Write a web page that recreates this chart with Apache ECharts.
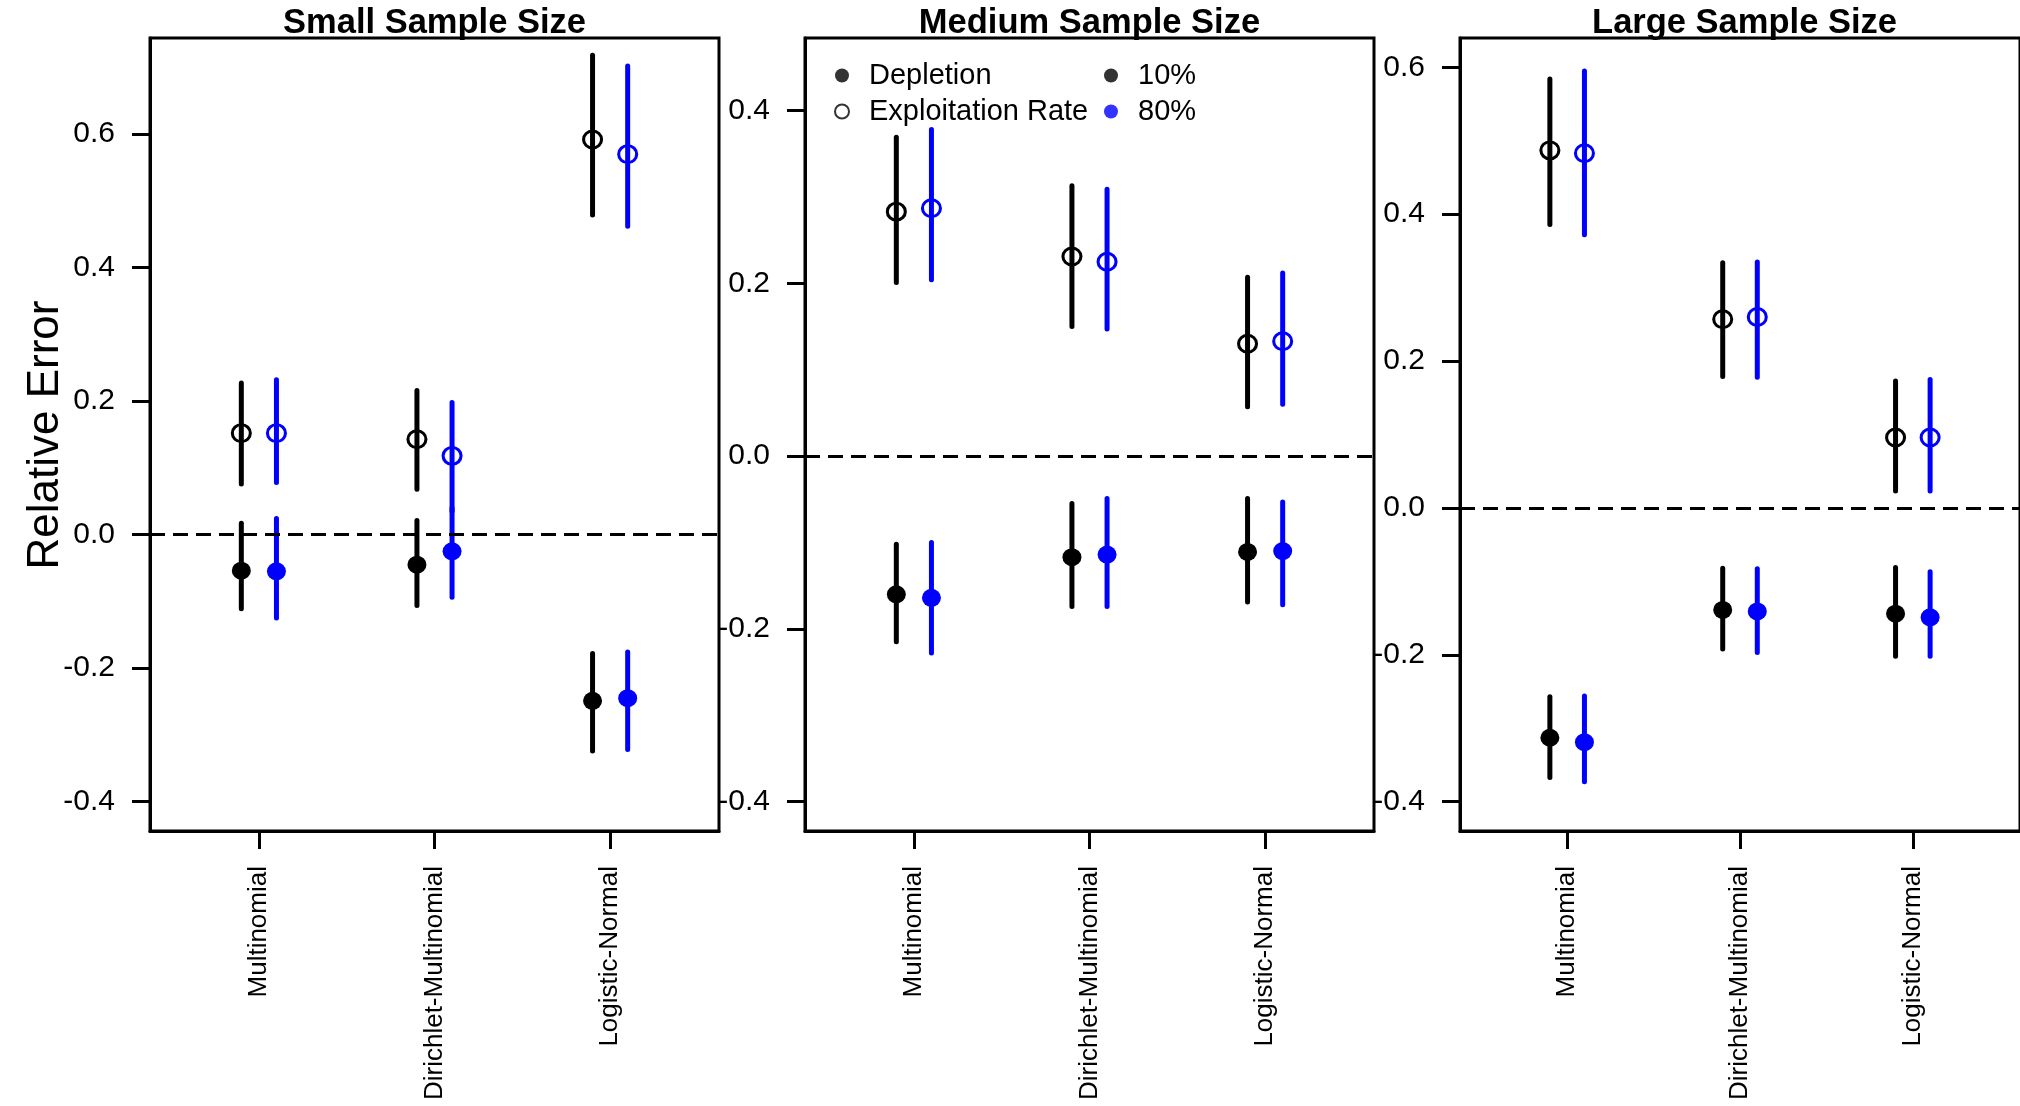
<!DOCTYPE html>
<html>
<head>
<meta charset="utf-8">
<script src="https://cdn.jsdelivr.net/npm/echarts@6/dist/echarts.min.js"></script>
<style>
html,body{margin:0;padding:0;background:#fff;}
#chart{width:2020px;height:1106px;}
</style>
</head>
<body>
<div id="chart"></div>
<script>
// ---------------- DATA ----------------
const categories = ['Multinomial', 'Dirichlet-Multinomial', 'Logistic-Normal'];
const panelTitles = ['Small Sample Size', 'Medium Sample Size', 'Large Sample Size'];
const yLimits = [[-0.4, 0.7], [-0.4, 0.45], [-0.4, 0.6]];
const yTicksSmall = [-0.4, -0.2, 0.0, 0.2, 0.4, 0.6];
const yTicksMedium = [-0.4, -0.2, 0.0, 0.2, 0.4];
const yTicksLarge = [-0.4, -0.2, 0.0, 0.2, 0.4, 0.6];
const legendMeasures = ['Depletion', 'Exploitation Rate'];
const legendRates = ['10%', '80%'];

// each entry: [estimate, lower, upper] per category
const smallDepletion10 = [[-0.054, -0.111, 0.017], [-0.045, -0.106, 0.021], [-0.249, -0.324, -0.178]];
const smallDepletion80 = [[-0.055, -0.125, 0.024], [-0.025, -0.094, 0.040], [-0.245, -0.322, -0.176]];
const smallExploit10   = [[0.152, 0.076, 0.227], [0.143, 0.068, 0.216], [0.592, 0.479, 0.718]];
const smallExploit80   = [[0.152, 0.078, 0.232], [0.118, 0.035, 0.198], [0.570, 0.462, 0.702]];

const mediumDepletion10 = [[-0.160, -0.215, -0.102], [-0.117, -0.174, -0.055], [-0.111, -0.169, -0.049]];
const mediumDepletion80 = [[-0.164, -0.228, -0.100], [-0.114, -0.174, -0.049], [-0.110, -0.172, -0.053]];
const mediumExploit10   = [[0.283, 0.201, 0.369], [0.231, 0.150, 0.313], [0.130, 0.057, 0.207]];
const mediumExploit80   = [[0.287, 0.204, 0.378], [0.225, 0.147, 0.309], [0.133, 0.060, 0.212]];

const largeDepletion10 = [[-0.313, -0.367, -0.257], [-0.139, -0.192, -0.082], [-0.144, -0.202, -0.081]];
const largeDepletion80 = [[-0.319, -0.373, -0.256], [-0.141, -0.197, -0.083], [-0.149, -0.202, -0.087]];
const largeExploit10   = [[0.487, 0.386, 0.584], [0.257, 0.179, 0.334], [0.096, 0.023, 0.173]];
const largeExploit80   = [[0.483, 0.372, 0.595], [0.260, 0.178, 0.335], [0.096, 0.023, 0.175]];

// ---------------- SETUP ----------------
const FONT = "'Liberation Sans', Arial, sans-serif";
const BLACK = '#000000';
const BLUE = '#0000FF';
const yTicks = [yTicksSmall, yTicksMedium, yTicksLarge];
const groups = [
  { name: 'Depletion 10%', filled: true,  color: BLACK, dodge: -0.1, data: [smallDepletion10, mediumDepletion10, largeDepletion10] },
  { name: 'Depletion 80%', filled: true,  color: BLUE,  dodge:  0.1, data: [smallDepletion80, mediumDepletion80, largeDepletion80] },
  { name: 'Exploitation Rate 10%', filled: false, color: BLACK, dodge: -0.1, data: [smallExploit10, mediumExploit10, largeExploit10] },
  { name: 'Exploitation Rate 80%', filled: false, color: BLUE,  dodge:  0.1, data: [smallExploit80, mediumExploit80, largeExploit80] }
];

const gridLefts = [150, 805, 1460];
const gridTop = 38, gridHeight = 793, gridWidth = 569;
const xlim = [0.5, 3.5];
const xPad = 0.04 * (xlim[1] - xlim[0]);

const grids = [], xAxes = [], yAxes = [], titles = [], series = [];

for (let p = 0; p < 3; p++) {
  grids.push({
    left: gridLefts[p], top: gridTop, width: gridWidth, height: gridHeight,
    show: true, borderColor: BLACK, borderWidth: 3, backgroundColor: 'transparent', containLabel: false
  });
  const yl = yLimits[p];
  const yPad = 0.04 * (yl[1] - yl[0]);
  xAxes.push({
    type: 'value', gridIndex: p,
    min: xlim[0] - xPad, max: xlim[1] + xPad,
    axisLine: { show: true, onZero: false, lineStyle: { color: BLACK, width: 3 } },
    axisTick: { show: true, length: 18, customValues: [1, 2, 3], lineStyle: { color: BLACK, width: 3 } },
    axisLabel: {
      show: true, customValues: [1, 2, 3], rotate: 90, margin: 35,
      fontSize: 26, color: BLACK, fontFamily: FONT,
      formatter: v => categories[Math.round(v) - 1]
    },
    splitLine: { show: false }
  });
  yAxes.push({
    type: 'value', gridIndex: p,
    min: yl[0] - yPad, max: yl[1] + yPad,
    axisLine: { show: true, onZero: false, lineStyle: { color: BLACK, width: 3 } },
    axisTick: { show: true, length: 18, customValues: yTicks[p], lineStyle: { color: BLACK, width: 3 } },
    axisLabel: {
      show: true, customValues: yTicks[p], margin: 35,
      fontSize: 30, color: BLACK, fontFamily: FONT,
      formatter: v => v.toFixed(1)
    },
    splitLine: { show: false }
  });
  titles.push({
    text: panelTitles[p],
    left: gridLefts[p] + gridWidth / 2, top: 6, textAlign: 'center', padding: 0,
    textStyle: { fontSize: 34.5, fontWeight: 'bold', color: BLACK, fontFamily: FONT }
  });

  groups.forEach((g, gi) => {
    const bars = g.data[p].map((d, i) => [i + 1 + g.dodge, d[1], d[2]]);
    const pts = g.data[p].map((d, i) => [i + 1 + g.dodge, d[0]]);
    series.push({
      type: 'custom', xAxisIndex: p, yAxisIndex: p, silent: true, z: 3,
      data: bars,
      encode: { x: 0, y: [1, 2] },
      renderItem: (params, api) => {
        const a = api.coord([api.value(0), api.value(1)]);
        const b = api.coord([api.value(0), api.value(2)]);
        return {
          type: 'line',
          shape: { x1: a[0], y1: a[1], x2: b[0], y2: b[1] },
          style: { stroke: g.color, lineWidth: 5, lineCap: 'round' }
        };
      }
    });
    const s = {
      type: 'scatter', name: g.name, xAxisIndex: p, yAxisIndex: p, silent: true, z: 5,
      data: pts,
      symbol: 'circle',
      symbolSize: g.filled ? [19, 18] : [18, 17],
      itemStyle: g.filled
        ? { color: g.color, borderWidth: 0, opacity: 1 }
        : { color: 'rgba(255,255,255,0)', borderColor: g.color, borderWidth: 3, opacity: 1 }
    };
    if (gi === 0) {
      s.markLine = {
        silent: true, symbol: ['none', 'none'], animation: false,
        label: { show: false },
        lineStyle: { color: BLACK, width: 3, type: [15, 8] },
        data: [{ yAxis: 0 }]
      };
    }
    series.push(s);
  });
}

// dummy series for legend entries
series.push({ type: 'scatter', name: legendMeasures[0], xAxisIndex: 1, yAxisIndex: 1, data: [], itemStyle: { color: BLACK } });
series.push({ type: 'scatter', name: legendMeasures[1], xAxisIndex: 1, yAxisIndex: 1, data: [], itemStyle: { color: '#ffffff', borderColor: BLACK, borderWidth: 2.5 } });
series.push({ type: 'scatter', name: legendRates[0], xAxisIndex: 1, yAxisIndex: 1, data: [], itemStyle: { color: BLACK } });
series.push({ type: 'scatter', name: legendRates[1], xAxisIndex: 1, yAxisIndex: 1, data: [], itemStyle: { color: BLUE } });

const legendCommon = {
  orient: 'vertical', top: 61, padding: 0, itemGap: 7,
  itemWidth: 44, itemHeight: 14, icon: 'circle', selectedMode: false,
  textStyle: { fontSize: 29, color: BLACK, fontFamily: FONT, lineHeight: 28 }
};

const option = {
  animation: false,
  backgroundColor: '#ffffff',
  title: titles,
  grid: grids,
  xAxis: xAxes,
  yAxis: yAxes,
  legend: [
    Object.assign({}, legendCommon, { left: 834, data: legendMeasures }),
    Object.assign({}, legendCommon, { left: 1104, data: legendRates })
  ],
  graphic: [{
    type: 'text', x: 45.5, y: 435, rotation: Math.PI / 2,
    style: { text: 'Relative Error', fontSize: 44, fill: BLACK, fontFamily: FONT, align: 'center', verticalAlign: 'middle' }
  }],
  series: series
};

const chart = echarts.init(document.getElementById('chart'), null, { renderer: 'canvas' });
chart.setOption(option);
</script>
</body>
</html>
